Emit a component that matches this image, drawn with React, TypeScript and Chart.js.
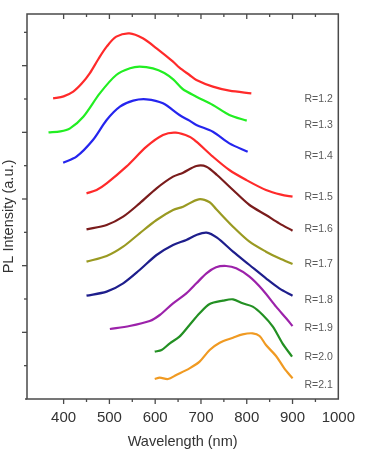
import React, { useEffect, useRef } from "react";
import { Chart, registerables } from "chart.js";

Chart.register(...registerables);

// Tick values
const X_MIN = 320;
const X_MAX = 1000;
const Y_MIN = 0;
const Y_MAX = 11.55;

// Series labels and colours
const seriesLabels = ["R=1.2", "R=1.3", "R=1.4", "R=1.5", "R=1.6", "R=1.7", "R=1.8", "R=1.9", "R=2.0", "R=2.1"];
const seriesColors = ["#ff2a2a", "#22ee22", "#2525ee", "#ff2a2a", "#7a1c1c", "#9a9a22", "#1e1e8c", "#9c22aa", "#239023", "#f09a22"];
const labelX = 926;
const labelY = [9.0, 8.22, 7.28, 6.07, 5.1, 4.05, 2.97, 2.12, 1.25, 0.42];

// Wavelength (nm) and PL intensity (offset, a.u.) per series
const wl12 = [377, 400, 421, 440, 457, 476, 494, 515, 544, 573, 603, 639, 653, 675, 690, 726, 762, 810];
const pl12 = [9.02, 9.08, 9.22, 9.47, 9.77, 10.2, 10.57, 10.87, 10.97, 10.82, 10.52, 10.12, 9.94, 9.72, 9.57, 9.37, 9.25, 9.17];

const wl13 = [367, 393, 414, 443, 479, 515, 545, 566, 595, 620, 640, 660, 690, 726, 762, 800];
const pl13 = [8.0, 8.03, 8.12, 8.47, 9.17, 9.72, 9.92, 9.97, 9.92, 9.78, 9.58, 9.3, 9.07, 8.82, 8.52, 8.35];

const wl14 = [399, 428, 464, 494, 523, 552, 581, 617, 653, 675, 690, 726, 762, 802];
const pl14 = [7.09, 7.27, 7.77, 8.37, 8.77, 8.95, 8.99, 8.87, 8.52, 8.35, 8.22, 8.02, 7.67, 7.42];

const wl15 = [450, 472, 494, 537, 581, 617, 645, 675, 690, 726, 762, 799, 842, 875, 900];
const pl15 = [6.17, 6.27, 6.47, 6.97, 7.57, 7.92, 7.99, 7.87, 7.72, 7.27, 6.87, 6.57, 6.27, 6.13, 6.07];

const wl16 = [450, 494, 530, 566, 603, 639, 661, 690, 712, 735, 770, 806, 842, 871, 900];
const pl16 = [5.09, 5.22, 5.47, 5.87, 6.32, 6.67, 6.79, 6.99, 6.97, 6.72, 6.27, 5.82, 5.52, 5.27, 5.05];

const wl17 = [450, 494, 530, 566, 603, 639, 661, 695, 719, 733, 770, 806, 842, 871, 900];
const pl17 = [4.12, 4.29, 4.57, 4.97, 5.37, 5.67, 5.77, 5.99, 5.9, 5.7, 5.17, 4.72, 4.42, 4.22, 4.05];

const wl18 = [450, 494, 530, 566, 603, 639, 668, 690, 712, 735, 770, 806, 842, 871, 900];
const pl18 = [3.1, 3.22, 3.47, 3.87, 4.32, 4.62, 4.77, 4.92, 4.99, 4.84, 4.42, 4.02, 3.62, 3.32, 3.1];

const wl19 = [501, 544, 588, 610, 639, 668, 690, 712, 733, 755, 777, 806, 835, 864, 886, 900];
const pl19 = [2.1, 2.19, 2.34, 2.52, 2.87, 3.17, 3.47, 3.77, 3.95, 3.99, 3.92, 3.67, 3.27, 2.77, 2.42, 2.19];

const wl20 = [599, 614, 632, 653, 675, 697, 719, 748, 770, 791, 813, 835, 857, 878, 899];
const pl20 = [1.42, 1.47, 1.67, 1.87, 2.22, 2.57, 2.85, 2.95, 2.99, 2.87, 2.77, 2.52, 2.17, 1.67, 1.27];

const wl21 = [599, 610, 628, 646, 675, 697, 719, 741, 770, 791, 813, 828, 842, 864, 882, 900];
const pl21 = [0.6, 0.64, 0.6, 0.72, 0.92, 1.12, 1.47, 1.69, 1.84, 1.94, 1.97, 1.89, 1.62, 1.29, 0.92, 0.62];

const allWl = [wl12, wl13, wl14, wl15, wl16, wl17, wl18, wl19, wl20, wl21];
const allPl = [pl12, pl13, pl14, pl15, pl16, pl17, pl18, pl19, pl20, pl21];

const FONT = "'Liberation Sans', Arial, sans-serif";

const decorPlugin = {
  id: "decor",
  afterDraw(chart: any) {
    const { ctx, chartArea } = chart;
    const xs = chart.scales.x;
    const ys = chart.scales.y;
    const { left, right, top, bottom } = chartArea;
    ctx.save();
    ctx.strokeStyle = "#4a4a4a";
    ctx.lineWidth = 1.5;
    ctx.strokeRect(left, top, right - left, bottom - top);
    ctx.beginPath();
    ctx.moveTo(left - 2, bottom);
    ctx.lineTo(left, bottom);
    ctx.stroke();
    ctx.lineWidth = 1.3;
    xs.ticks.forEach((t: any) => {
      const v = t.value;
      if (Math.abs(v % 50) > 1e-6) return;
      if (v <= X_MIN || v >= X_MAX) return;
      const px = xs.getPixelForValue(v);
      const len = v % 100 === 0 ? 5 : 3;
      ctx.beginPath();
      ctx.moveTo(px, bottom);
      ctx.lineTo(px, bottom + len);
      ctx.moveTo(px, top);
      ctx.lineTo(px, top + len);
      ctx.stroke();
    });
    ys.ticks.forEach((t: any) => {
      const v = t.value;
      if (Math.abs(v - Math.round(v)) > 1e-6) return;
      if (v <= Y_MIN || v >= Y_MAX) return;
      const py = ys.getPixelForValue(v);
      const len = Math.round(v) % 2 === 0 ? 5 : 3;
      ctx.beginPath();
      ctx.moveTo(left - len, py);
      ctx.lineTo(left, py);
      ctx.stroke();
    });
    // y title
    ctx.save();
    ctx.translate(9, (top + bottom) / 2 + 10);
    ctx.rotate(-Math.PI / 2);
    ctx.fillStyle = "#333";
    ctx.font = `14.5px ${FONT}`;
    ctx.textAlign = "center";
    ctx.textBaseline = "middle";
    ctx.fillText("PL Intensity (a.u.)", 0, 0);
    ctx.restore();
    // series labels
    ctx.fillStyle = "#5a5a5a";
    ctx.font = `10.5px ${FONT}`;
    ctx.textAlign = "left";
    ctx.textBaseline = "middle";
    seriesLabels.forEach((s, i) => {
      ctx.fillText(s, xs.getPixelForValue(labelX), ys.getPixelForValue(labelY[i]));
    });
    ctx.restore();
  },
};

export default function App() {
  const ref = useRef<HTMLCanvasElement | null>(null);
  useEffect(() => {
    if (!ref.current) return;
    Chart.defaults.font.family = FONT;
    const datasets = seriesLabels.map((label, i) => ({
      label,
      data: allWl[i].map((x, j) => ({ x, y: allPl[i][j] })),
      borderColor: seriesColors[i],
      backgroundColor: seriesColors[i],
      borderWidth: 2.2,
      pointRadius: 0,
      tension: 0.3,
      fill: false,
    }));
    const chart = new Chart(ref.current, {
      type: "line",
      data: { datasets },
      plugins: [decorPlugin],
      options: {
        responsive: false,
        animation: false,
        layout: { padding: { top: 14, right: 26, left: 0, bottom: 0 } },
        plugins: { legend: { display: false }, tooltip: { enabled: false } },
        scales: {
          x: {
            type: "linear",
            min: X_MIN,
            max: X_MAX,
            afterFit: (axis: any) => {
              axis.height = 55;
            },
            grid: { display: false, drawTicks: false },
            border: { display: false },
            ticks: {
              stepSize: 50,
              autoSkip: false,
              maxRotation: 0,
              padding: 10,
              color: "#333",
              font: { size: 15 },
              callback: (v: any) => (Number(v) % 100 === 0 && Number(v) >= 400 ? String(v) : ""),
            },
            title: {
              display: true,
              text: "Wavelength (nm)",
              color: "#333",
              font: { size: 14.5 },
              padding: { top: 0, bottom: 3 },
            },
          },
          y: {
            type: "linear",
            min: Y_MIN,
            max: Y_MAX,
            afterFit: (axis: any) => {
              axis.width = 27;
            },
            grid: { display: false, drawTicks: false },
            border: { display: false },
            ticks: { stepSize: 1, display: false },
          },
        },
      },
    });
    return () => chart.destroy();
  }, []);
  return (
    <div style={{ position: "fixed", left: 0, top: 0, width: 365, height: 454, background: "#fff" }}>
      <canvas ref={ref} width={365} height={454} style={{ width: 365, height: 454 }} />
    </div>
  );
}
